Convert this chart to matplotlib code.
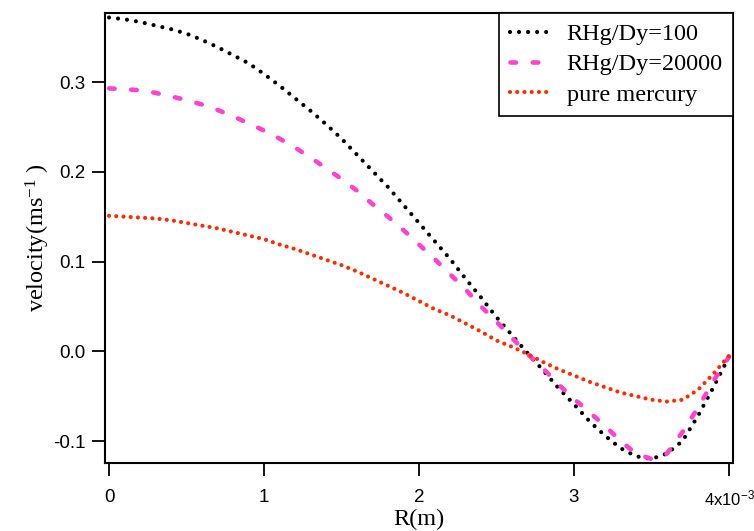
import matplotlib
matplotlib.use("Agg")
import matplotlib.pyplot as plt

# R in units of 1e-3 m
r = [0.0, 0.1, 0.2, 0.3, 0.4, 0.5, 0.6, 0.7, 0.8, 0.9,
     1.0, 1.1, 1.2, 1.3, 1.4, 1.5, 1.6, 1.7, 1.8, 1.9,
     2.0, 2.1, 2.2, 2.3, 2.4, 2.5, 2.6, 2.7, 2.8, 2.9,
     3.0, 3.1, 3.2, 3.3, 3.4, 3.5, 3.6, 3.7, 3.8, 3.9, 4.0]

v_100 = [0.372, 0.370, 0.367, 0.363, 0.359, 0.354, 0.347, 0.339, 0.330, 0.321,
         0.309, 0.296, 0.282, 0.268, 0.253, 0.237, 0.219, 0.201, 0.183, 0.163,
         0.143, 0.123, 0.103, 0.081, 0.060, 0.038, 0.018, -0.002, -0.021, -0.041,
         -0.059, -0.078, -0.094, -0.108, -0.117, -0.120, -0.114, -0.100, -0.072, -0.040, -0.006]

v_20000 = [0.293, 0.292, 0.291, 0.288, 0.284, 0.280, 0.275, 0.269, 0.262, 0.254,
           0.246, 0.237, 0.227, 0.216, 0.204, 0.192, 0.179, 0.164, 0.150, 0.135,
           0.119, 0.103, 0.086, 0.069, 0.050, 0.033, 0.015, -0.003, -0.019, -0.037,
           -0.053, -0.068, -0.083, -0.100, -0.114, -0.120, -0.114, -0.090, -0.063, -0.033, -0.006]

v_hg = [0.151, 0.150, 0.149, 0.148, 0.146, 0.143, 0.140, 0.137, 0.133, 0.129,
        0.125, 0.119, 0.114, 0.108, 0.102, 0.096, 0.089, 0.081, 0.073, 0.065,
        0.056, 0.047, 0.040, 0.031, 0.022, 0.012, 0.005, -0.003, -0.012, -0.020,
        -0.027, -0.034, -0.040, -0.046, -0.050, -0.054, -0.056, -0.054, -0.043, -0.025, -0.005]

x_ticks = [0, 1, 2, 3, 4]
x_labels = ["0", "1", "2", "3", "4x10$\\mathdefault{^{-3}}$"]
y_ticks = [-0.1, 0.0, 0.1, 0.2, 0.3]
y_labels = ["-0.1", "0.0", "0.1", "0.2", "0.3"]

plt.rcParams["lines.scale_dashes"] = False
plt.rcParams["font.family"] = "Liberation Sans"

fig = plt.figure(figsize=(7.54, 5.31), dpi=100)
ax = fig.add_axes([105 / 754, 68 / 531, 628 / 754, 450 / 531])

ax.plot(r, v_100, color="black", lw=3.0, dashes=(0.01, 6.5),
        dash_capstyle="round", label="RHg/Dy=100")
ax.plot(r, v_20000, color="#ff40d0", lw=3.3, dashes=(4.0, 12.0),
        dash_capstyle="round", label="RHg/Dy=20000")
ax.plot(r, v_hg, color="#ff2a00", lw=3.0, dashes=(0.01, 5.2),
        dash_capstyle="round", label="pure mercury")

ax.set_xlim(-0.026, 4.026)
ax.set_ylim(-0.1245, 0.377)
ax.set_xticks(x_ticks)
ax.set_xticklabels(x_labels)
ax.set_yticks(y_ticks)
ax.set_yticklabels(y_labels)
ax.tick_params(direction="out", length=9.5, width=1.3, labelsize=13.5,
               top=False, right=False)
ax.tick_params(axis="x", pad=9)
ax.tick_params(axis="y", pad=4.5)
ax.get_xticklabels()[-1].set_fontsize(12)
for s in ax.spines.values():
    s.set_linewidth(1.5)

ax.set_xlabel("R(m)", family="Liberation Serif", fontsize=17.5, labelpad=0)
ax.set_ylabel("velocity(ms$\\mathdefault{^{-1}}$ )", family="Liberation Serif",
              fontsize=17.5, labelpad=1)

leg = ax.legend(loc="upper right", borderaxespad=0, fancybox=False,
                edgecolor="black", framealpha=1, handlelength=1.6,
                handletextpad=0.75, labelspacing=0.34, borderpad=0.42,
                prop={"family": "Liberation Serif", "size": 17.5})
leg.get_frame().set_linewidth(1.2)

fig.savefig("out.png", dpi=100)
